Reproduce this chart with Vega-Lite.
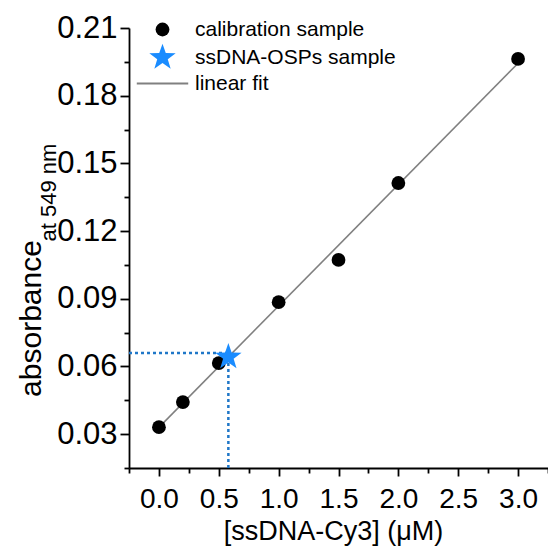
{
  "$schema": "https://vega.github.io/schema/vega-lite/v6.json",
  "autosize": {"type": "none"},
  "padding": {"left": 129, "top": 28, "right": 0, "bottom": 82},
  "width": 419,
  "height": 440,
  "background": "white",
  "config": {
    "view": {"stroke": null},
    "font": "Liberation Sans",
    "axis": {
      "domainColor": "black",
      "domainWidth": 1.8,
      "tickColor": "black",
      "tickWidth": 1.8,
      "grid": false,
      "labelColor": "black",
      "titleColor": "black",
      "labelFont": "Liberation Sans",
      "titleFont": "Liberation Sans",
      "titleFontWeight": "normal"
    },
    "legend": {
      "orient": "none",
      "legendX": 23,
      "legendY": -9,
      "labelFontSize": 21,
      "labelColor": "black",
      "labelFont": "Liberation Sans",
      "labelOffset": 22,
      "labelLimit": 400,
      "rowPadding": 3
    }
  },
  "datasets": {
    "points": [
      {"series": "calibration sample", "x": 0.0, "y": 0.0331},
      {"series": "calibration sample", "x": 0.2, "y": 0.0442},
      {"series": "calibration sample", "x": 0.5, "y": 0.0615},
      {"series": "calibration sample", "x": 1.0, "y": 0.0885},
      {"series": "calibration sample", "x": 1.5, "y": 0.1072},
      {"series": "calibration sample", "x": 2.0, "y": 0.1413},
      {"series": "calibration sample", "x": 3.0, "y": 0.1963},
      {"series": "ssDNA-OSPs sample", "x": 0.58, "y": 0.0642}
    ],
    "fit": [
      {"series": "linear fit", "x": 0.0, "y": 0.033},
      {"series": "linear fit", "x": 3.0, "y": 0.1944}
    ],
    "guides": [
      {"x": -0.25, "x2": 0.58, "y": 0.066, "y2": 0.066},
      {"x": 0.58, "x2": 0.58, "y": 0.015, "y2": 0.066}
    ]
  },
  "encoding": {
    "x": {
      "field": "x",
      "type": "quantitative",
      "scale": {"domain": [-0.25, 3.25], "nice": false, "zero": false},
      "axis": {
        "values": [-0.25, 0, 0.25, 0.5, 0.75, 1, 1.25, 1.5, 1.75, 2, 2.25, 2.5, 2.75, 3, 3.25],
        "labelExpr": "abs(round(datum.value*2)-datum.value*2) < 1e-6 ? format(datum.value, '.1f') : ''",
        "tickSize": {"condition": {"test": "abs(round(datum.value*2)-datum.value*2) < 1e-6", "value": 8}, "value": 5},
        "labelFontSize": 28,
        "labelPadding": 9,
        "labelFlush": false,
        "labelOverlap": false,
        "title": "[ssDNA-Cy3] (μM)",
        "titleFontSize": 27,
        "titleBaseline": "alphabetic",
        "titleX": 204,
        "titleY": 71
      }
    }
  },
  "resolve": {"axis": {"y": "independent"}},
  "layer": [
    {
      "data": {"name": "guides"},
      "mark": {"type": "rule", "color": "#1f77c8", "strokeWidth": 2.5, "strokeDash": [3, 3]},
      "encoding": {
        "x2": {"field": "x2"},
        "y": {
          "field": "y",
          "type": "quantitative",
          "scale": {"domain": [0.015, 0.21], "nice": false, "zero": false},
          "axis": {
            "orient": "left",
            "domain": false,
            "ticks": false,
            "labels": false,
            "grid": false,
            "title": "at 549 nm",
            "titleFontSize": 22,
            "titleAngle": 270,
            "titleBaseline": "alphabetic",
            "titleAlign": "center",
            "titleX": -74,
            "titleY": 164
          }
        },
        "y2": {"field": "y2"}
      }
    },
    {
      "data": {"name": "fit"},
      "mark": {"type": "line", "strokeWidth": 1.6},
      "encoding": {
        "y": {"field": "y", "type": "quantitative", "scale": {"domain": [0.015, 0.21], "nice": false, "zero": false}, "axis": null},
        "color": {
          "field": "series",
          "type": "nominal",
          "scale": {"domain": ["calibration sample", "ssDNA-OSPs sample", "linear fit"], "range": ["black", "#1a8cff", "#808080"]},
          "legend": {
            "title": null,
            "labelFontSize": 21,
            "labelLimit": 400,
            "encode": {
              "labels": {"update": {"fontSize": {"value": 21}}},
              "symbols": {
                "update": {
                  "shape": {"signal": "datum.value === 'linear fit' ? 'M-1.4,0L1.4,0' : datum.value === 'ssDNA-OSPs sample' ? 'M0,-1L0.235,-0.324L0.951,-0.309L0.38,0.124L0.588,0.809L0,0.4L-0.588,0.809L-0.38,0.124L-0.951,-0.309L-0.235,-0.324Z' : 'circle'"},
                  "stroke": {"scale": "color", "field": "value"},
                  "fill": {"scale": "color", "field": "value"},
                  "opacity": {"value": 1},
                  "strokeWidth": {"signal": "datum.value === 'linear fit' ? 2 : 0"},
                  "size": {"signal": "datum.value === 'linear fit' ? 600 : datum.value === 'ssDNA-OSPs sample' ? 1100 : 170"}
                }
              }
            }
          }
        }
      }
    },
    {
      "data": {"name": "points"},
      "mark": {"type": "point", "filled": true, "opacity": 1, "strokeWidth": 0},
      "encoding": {
        "y": {
          "field": "y",
          "type": "quantitative",
          "scale": {"domain": [0.015, 0.21], "nice": false, "zero": false},
          "axis": {
            "orient": "left",
            "values": [0.015, 0.03, 0.045, 0.06, 0.075, 0.09, 0.105, 0.12, 0.135, 0.15, 0.165, 0.18, 0.195, 0.21],
            "labelExpr": "abs(round(datum.value/0.03)-datum.value/0.03) < 1e-6 ? format(datum.value, '.2f') : ''",
            "tickSize": {"condition": {"test": "abs(round(datum.value/0.03)-datum.value/0.03) < 1e-6", "value": 9}, "value": 5},
            "labelFontSize": 31,
            "labelPadding": 3,
            "labelFlush": false,
            "labelOverlap": false,
            "title": "absorbance",
            "titleFontSize": 30,
            "titleAngle": 270,
            "titleBaseline": "alphabetic",
            "titleAlign": "center",
            "titleX": -89,
            "titleY": 290
          }
        },
        "color": {
          "field": "series",
          "type": "nominal",
          "scale": {"domain": ["calibration sample", "ssDNA-OSPs sample", "linear fit"], "range": ["black", "#1a8cff", "#808080"]},
          "legend": {
            "title": null,
            "labelFontSize": 21,
            "labelLimit": 400,
            "encode": {
              "labels": {"update": {"fontSize": {"value": 21}}},
              "symbols": {
                "update": {
                  "shape": {"signal": "datum.value === 'linear fit' ? 'M-1.4,0L1.4,0' : datum.value === 'ssDNA-OSPs sample' ? 'M0,-1L0.235,-0.324L0.951,-0.309L0.38,0.124L0.588,0.809L0,0.4L-0.588,0.809L-0.38,0.124L-0.951,-0.309L-0.235,-0.324Z' : 'circle'"},
                  "stroke": {"scale": "color", "field": "value"},
                  "fill": {"scale": "color", "field": "value"},
                  "opacity": {"value": 1},
                  "strokeWidth": {"signal": "datum.value === 'linear fit' ? 2 : 0"},
                  "size": {"signal": "datum.value === 'linear fit' ? 600 : datum.value === 'ssDNA-OSPs sample' ? 1100 : 170"}
                }
              }
            }
          }
        },
        "shape": {
          "field": "series",
          "type": "nominal",
          "scale": {"domain": ["calibration sample", "ssDNA-OSPs sample", "linear fit"], "range": ["circle", "M0,-1L0.235,-0.324L0.951,-0.309L0.38,0.124L0.588,0.809L0,0.4L-0.588,0.809L-0.38,0.124L-0.951,-0.309L-0.235,-0.324Z", "M-1.4,0L1.4,0"]},
          "legend": {"title": null, "labelFontSize": 21, "labelLimit": 400}
        },
        "size": {
          "field": "series",
          "type": "nominal",
          "scale": {"domain": ["calibration sample", "ssDNA-OSPs sample", "linear fit"], "range": [190, 1350, 600]},
          "legend": {"title": null, "labelFontSize": 21, "labelLimit": 400}
        }
      }
    }
  ]
}
